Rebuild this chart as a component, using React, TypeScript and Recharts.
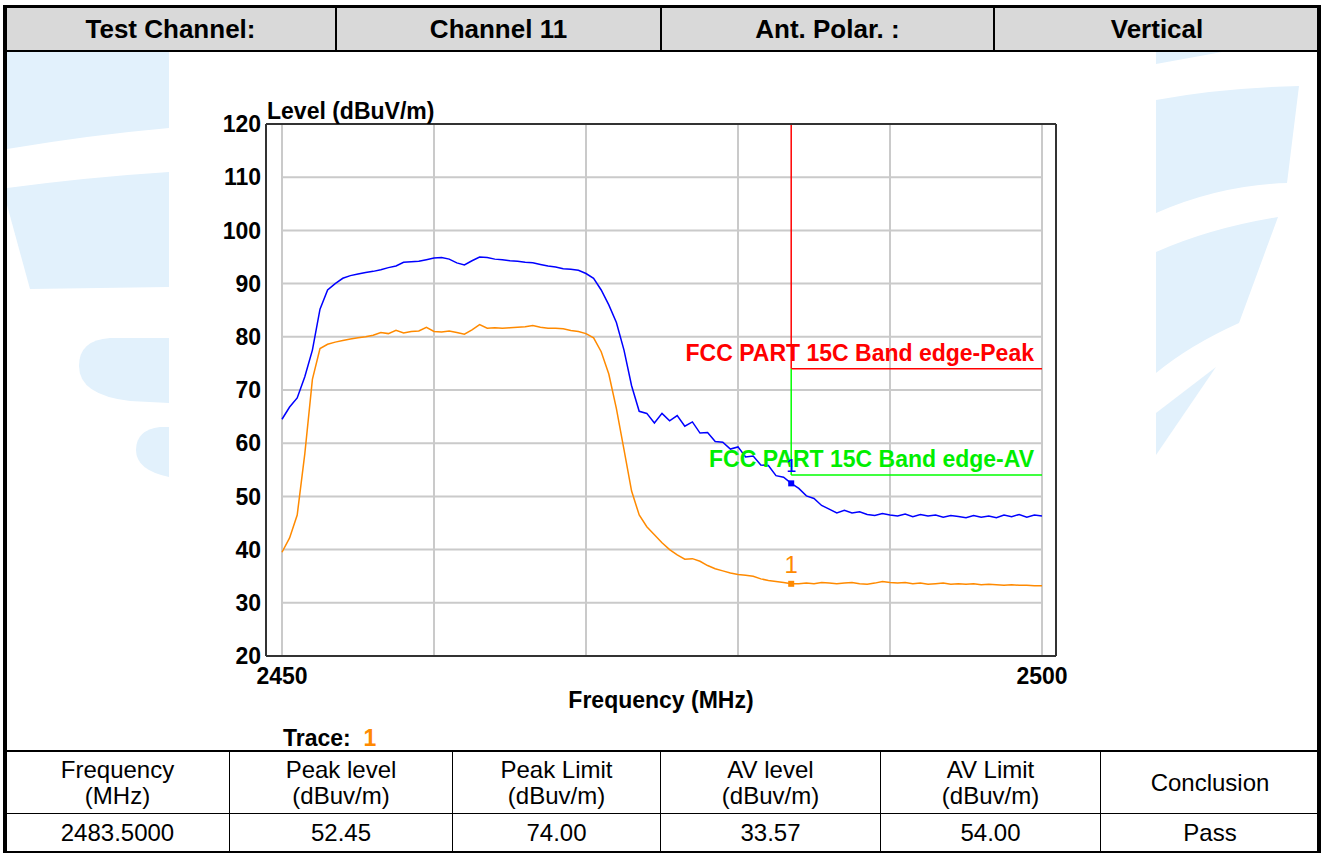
import React from 'react';
import { LineChart, Line, XAxis, YAxis, ReferenceLine, ReferenceDot } from 'recharts';

const FONT = '"Liberation Sans", Arial, Helvetica, sans-serif';

const freqMHz = [
  2450, 2450.5, 2451, 2451.5, 2452, 2452.5, 2453, 2453.5, 2454, 2454.5,
  2455, 2455.5, 2456, 2456.5, 2457, 2457.5, 2458, 2458.5, 2459, 2459.5,
  2460, 2460.5, 2461, 2461.5, 2462, 2462.5, 2463, 2463.5, 2464, 2464.5,
  2465, 2465.5, 2466, 2466.5, 2467, 2467.5, 2468, 2468.5, 2469, 2469.5,
  2470, 2470.5, 2471, 2471.5, 2472, 2472.5, 2473, 2473.5, 2474, 2474.5,
  2475, 2475.5, 2476, 2476.5, 2477, 2477.5, 2478, 2478.5, 2479, 2479.5,
  2480, 2480.5, 2481, 2481.5, 2482, 2482.5, 2483, 2483.5, 2484, 2484.5,
  2485, 2485.5, 2486, 2486.5, 2487, 2487.5, 2488, 2488.5, 2489, 2489.5,
  2490, 2490.5, 2491, 2491.5, 2492, 2492.5, 2493, 2493.5, 2494, 2494.5,
  2495, 2495.5, 2496, 2496.5, 2497, 2497.5, 2498, 2498.5, 2499, 2499.5,
  2500,
];

const peakLevel = [
  64.5, 66.8, 68.5, 72.5, 77.5, 85.2, 88.8, 90.0, 91.0, 91.5,
  91.8, 92.1, 92.3, 92.6, 93.0, 93.3, 94.0, 94.1, 94.2, 94.5,
  94.8, 94.9, 94.6, 93.9, 93.5, 94.3, 95.0, 94.9, 94.6, 94.5,
  94.3, 94.2, 94.0, 93.9, 93.6, 93.3, 93.1, 92.8, 92.7, 92.5,
  91.9, 91.0, 88.8, 86.0, 82.7, 77.5, 70.8, 66.0, 65.6, 63.8,
  65.6, 64.2, 65.2, 63.2, 64.0, 61.9, 62.0, 60.3, 60.2, 58.9,
  59.3, 57.4, 57.6, 55.9, 55.8, 53.9, 53.6, 52.45, 51.5, 50.1,
  49.6, 48.3, 47.6, 46.9, 47.4, 46.9, 47.1, 46.6, 46.4, 46.8,
  46.5, 46.3, 46.7, 46.2, 46.6, 46.3, 46.5, 46.1, 46.4, 46.2,
  46.0, 46.4, 46.1, 46.3, 46.0, 46.5, 46.2, 46.6, 46.1, 46.5,
  46.3,
];

const avLevel = [
  39.5, 42.2, 46.5, 58.0, 72.0, 77.8, 78.6, 79.0, 79.3, 79.6,
  79.8, 80.0, 80.3, 80.8, 80.6, 81.2, 80.7, 81.0, 81.1, 81.8,
  81.0, 80.9, 81.1, 80.8, 80.5, 81.3, 82.3, 81.6, 81.7, 81.6,
  81.7, 81.8, 81.9, 82.1, 81.8, 81.6, 81.6, 81.5, 81.2, 81.0,
  80.6, 79.8, 77.2, 73.0, 66.5, 58.8, 51.0, 46.5, 44.3, 42.8,
  41.3, 40.0, 39.0, 38.2, 38.3, 37.8, 37.0, 36.4, 36.0, 35.6,
  35.3, 35.2, 35.0, 34.5, 34.2, 34.0, 33.8, 33.57, 33.6, 33.7,
  33.6, 33.8, 33.7, 33.6, 33.7, 33.8, 33.6, 33.5, 33.7, 34.0,
  33.8, 33.7, 33.8, 33.6, 33.7, 33.5, 33.6, 33.7, 33.5, 33.6,
  33.5, 33.6, 33.4, 33.5, 33.4, 33.3, 33.4, 33.3, 33.3, 33.2,
  33.2,
];

const yTicks = [20, 30, 40, 50, 60, 70, 80, 90, 100, 110, 120];
const yGrid = [30, 40, 50, 60, 70, 80, 90, 100, 110];
const xTicks = [2450, 2500];
const xGrid = [2450, 2460, 2470, 2480, 2490, 2500];
const xDomain = [2450, 2500];
const yDomain = [20, 120];

const limitFreq = 2483.5;
const peakLimit = 74;
const avLimit = 54;
const peakMarker = 52.45;
const avMarker = 33.57;

const headerCells = ['Test Channel:', 'Channel 11', 'Ant. Polar. :', 'Vertical'];
const tableHead = [
  ['Frequency', '(MHz)'],
  ['Peak level', '(dBuv/m)'],
  ['Peak Limit', '(dBuv/m)'],
  ['AV level', '(dBuv/m)'],
  ['AV Limit', '(dBuv/m)'],
  ['Conclusion'],
];
const tableRow = ['2483.5000', '52.45', '74.00', '33.57', '54.00', 'Pass'];

const WM = '#e2f1fc';

function Watermark() {
  return (
    <svg width={1328} height={853} style={{ position: 'absolute', left: 0, top: 0 }}>
      <path d="M7,50 L169,50 L169,128 Q90,135 7,149 Z" fill={WM} />
      <path d="M7,188 Q90,177 169,172 L169,287 L30,289 L7,205 Z" fill={WM} />
      <path d="M169,338 L110,338 Q79,340 79,366 Q79,395 130,401 L169,403 Z" fill={WM} />
      <path d="M169,427 L160,427 Q136,430 136,450 Q136,470 169,477 Z" fill={WM} />
      <path d="M1156,50 L1233,50 L1156,64 Z" fill={WM} />
      <path d="M1156,100 Q1220,88 1299,86 L1287,183 Q1220,185 1156,213 Z" fill={WM} />
      <path d="M1156,252 Q1210,228 1278,217 L1239,323 Q1190,345 1156,373 Z" fill={WM} />
      <path d="M1156,413 L1216,367 L1156,455 Z" fill={WM} />
    </svg>
  );
}

const tickStyle = { fontSize: 23, fontWeight: 'bold', fill: '#000', fontFamily: FONT };

function Square(color: string) {
  return (p: any) => <rect x={p.cx - 3} y={p.cy - 3} width={6} height={6} fill={color} />;
}

function YLabel(props: any) {
  const vb = props.viewBox || {};
  return (
    <text x={vb.x + vb.width + 1} y={vb.y - 5} fontSize={23} fontWeight="bold" fill="#000" fontFamily={FONT}>
      Level (dBuV/m)
    </text>
  );
}

export default function App() {
  const data = freqMHz.map((f, i) => ({ f, peak: peakLevel[i], av: avLevel[i] }));
  const headerEdges = [6, 335, 660, 993, 1319];
  const tableEdges = [6, 229, 452, 660, 880, 1100, 1319];
  return (
    <div style={{ position: 'relative', width: 1328, height: 853, background: '#fff', overflow: 'hidden', fontFamily: FONT }}>
      <style>{`body{margin:0}`}</style>
      <Watermark />
      <div style={{ position: 'absolute', left: 169, top: 50, width: 987, height: 701, background: '#fff' }} />
      <div style={{ position: 'absolute', left: 0, top: 0 }}>
        <LineChart width={1328} height={760} data={data} margin={{ top: 123, right: 271, bottom: 44, left: 170 }}>
          <XAxis
            dataKey="f"
            type="number"
            domain={xDomain}
            ticks={xTicks}
            padding={{ left: 16, right: 14 }}
            axisLine={{ stroke: '#333', strokeWidth: 2 }}
            tickLine={false}
            tickSize={0}
            tickMargin={12}
            tick={tickStyle}
            height={60}
            label={{ value: 'Frequency (MHz)', position: 'insideBottom', offset: 8, fontSize: 23, fontWeight: 'bold', fill: '#000', fontFamily: FONT }}
          />
          <XAxis
            xAxisId="top"
            orientation="top"
            dataKey="f"
            type="number"
            domain={xDomain}
            padding={{ left: 16, right: 14 }}
            axisLine={{ stroke: '#333', strokeWidth: 2 }}
            tick={false}
            tickLine={false}
            height={1}
          />
          <YAxis
            type="number"
            domain={yDomain}
            ticks={yTicks}
            width={96}
            axisLine={{ stroke: '#333', strokeWidth: 2 }}
            tickLine={false}
            tickSize={0}
            tickMargin={5}
            tick={tickStyle}
            label={<YLabel />}
          />
          <YAxis
            yAxisId="r"
            orientation="right"
            type="number"
            domain={yDomain}
            width={1}
            axisLine={{ stroke: '#333', strokeWidth: 2 }}
            tick={false}
            tickLine={false}
          />
          {xGrid.map((v) => (
            <ReferenceLine key={'gx' + v} x={v} stroke="#cacaca" strokeWidth={2} />
          ))}
          {yGrid.map((v) => (
            <ReferenceLine
              key={'gy' + v}
              segment={[{ x: xDomain[0], y: v }, { x: xDomain[1], y: v }]}
              stroke="#cacaca"
              strokeWidth={2}
            />
          ))}
          <ReferenceLine segment={[{ x: limitFreq, y: yDomain[1] }, { x: limitFreq, y: peakLimit }]} stroke="#ff0000" strokeWidth={1.5} />
          <ReferenceLine
            segment={[{ x: limitFreq, y: peakLimit }, { x: xDomain[1], y: peakLimit }]}
            stroke="#ff0000"
            strokeWidth={1.5}
            label={{ value: 'FCC PART 15C Band edge-Peak', position: 'insideBottomRight', offset: 8, fontSize: 23, fontWeight: 'bold', fill: '#ff0000', fontFamily: FONT }}
          />
          <ReferenceLine segment={[{ x: limitFreq, y: peakLimit }, { x: limitFreq, y: avLimit }]} stroke="#00ff00" strokeWidth={1.5} />
          <ReferenceLine
            segment={[{ x: limitFreq, y: avLimit }, { x: xDomain[1], y: avLimit }]}
            stroke="#00ff00"
            strokeWidth={1.5}
            label={{ value: 'FCC PART 15C Band edge-AV', position: 'insideBottomRight', offset: 8, fontSize: 23, fontWeight: 'bold', fill: '#00ee00', fontFamily: FONT }}
          />
          <Line dataKey="av" stroke="#ff8a00" strokeWidth={1.5} dot={false} isAnimationActive={false} type="linear" />
          <Line dataKey="peak" stroke="#0000ff" strokeWidth={1.5} dot={false} isAnimationActive={false} type="linear" />
          <ReferenceDot
            x={limitFreq}
            y={peakMarker}
            r={3}
            shape={Square('#0000ff')}
            label={{ value: '1', position: 'top', offset: 8, fontSize: 18, fill: '#0000ff', fontFamily: FONT }}
          />
          <ReferenceDot
            x={limitFreq}
            y={avMarker}
            r={3}
            shape={Square('#ff8a00')}
            label={{ value: '1', position: 'top', offset: 8, fontSize: 24, fill: '#ff8a00', fontFamily: FONT }}
          />
        </LineChart>
      </div>

      {/* Trace legend */}
      <div style={{ position: 'absolute', left: 283, top: 725, fontSize: 23, fontWeight: 'bold', color: '#000', whiteSpace: 'nowrap' }}>
        Trace:&nbsp;&nbsp;<span style={{ color: '#ff8a00' }}>1</span>
      </div>

      {/* Header row */}
      <div style={{ position: 'absolute', left: 6, top: 5, width: 1313, height: 42, background: '#d9d9d9', borderTop: '3px solid #000', borderBottom: '2px solid #000' }} />
      {headerCells.map((t, i) => (
        <div
          key={'h' + i}
          style={{
            position: 'absolute',
            left: headerEdges[i],
            top: 8,
            width: headerEdges[i + 1] - headerEdges[i],
            height: 42,
            lineHeight: '42px',
            textAlign: 'center',
            fontWeight: 'bold',
            fontSize: 26,
            color: '#000',
            borderLeft: i > 0 ? '2px solid #000' : 'none',
            boxSizing: 'border-box',
          }}
        >
          {t}
        </div>
      ))}

      {/* Bottom table */}
      <div style={{ position: 'absolute', left: 6, top: 750, width: 1313, height: 2, background: '#000' }} />
      <div style={{ position: 'absolute', left: 6, top: 813, width: 1313, height: 1, background: '#000' }} />
      <div style={{ position: 'absolute', left: 6, top: 851, width: 1313, height: 2, background: '#000' }} />
      {tableHead.map((lines, i) => (
        <div
          key={'th' + i}
          style={{
            position: 'absolute',
            left: tableEdges[i],
            top: 752,
            width: tableEdges[i + 1] - tableEdges[i],
            height: 61,
            display: 'flex',
            flexDirection: 'column',
            justifyContent: 'center',
            alignItems: 'center',
            fontSize: 24,
            lineHeight: '26px',
            color: '#000',
            borderLeft: i > 0 ? '1px solid #000' : 'none',
            boxSizing: 'border-box',
          }}
        >
          {lines.map((l, j) => (
            <div key={j}>{l}</div>
          ))}
        </div>
      ))}
      {tableRow.map((t, i) => (
        <div
          key={'td' + i}
          style={{
            position: 'absolute',
            left: tableEdges[i],
            top: 814,
            width: tableEdges[i + 1] - tableEdges[i],
            height: 37,
            lineHeight: '37px',
            textAlign: 'center',
            fontSize: 24,
            color: '#000',
            borderLeft: i > 0 ? '1px solid #000' : 'none',
            boxSizing: 'border-box',
          }}
        >
          {t}
        </div>
      ))}

      {/* Outer frame sides */}
      <div style={{ position: 'absolute', left: 3, top: 5, width: 4, height: 848, background: '#000' }} />
      <div style={{ position: 'absolute', left: 1317, top: 5, width: 4, height: 848, background: '#000' }} />
    </div>
  );
}
